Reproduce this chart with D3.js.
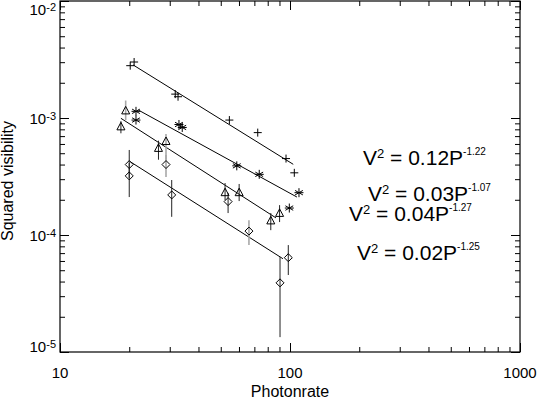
<!DOCTYPE html>
<html>
<head>
<meta charset="utf-8">
<script src="https://cdnjs.cloudflare.com/ajax/libs/d3/7.8.5/d3.min.js"></script>
<style>
body { margin: 0; background: #fff; }
svg { font-family: "Liberation Sans", Arial, Helvetica, sans-serif; }
</style>
</head>
<body>
<div id="chart"></div>
<script>
// photon rate (x) and squared visibility (y) for the four sets
var plusP = [20.2, 21.0, 31.7, 32.6, 54.5, 72.4, 96.1, 104.4];
var plusV = [2.80e-3, 3.01e-3, 1.60e-3, 1.52e-3, 9.6e-4, 7.5e-4, 4.5e-4, 3.4e-4];

var starP = [21.4, 21.4, 32.9, 34.0, 58.7, 73.5, 109.4, 99.3];
var starV = [1.14e-3, 9.6e-4, 8.8e-4, 8.3e-4, 3.9e-4, 3.3e-4, 2.3e-4, 1.7e-4];

var triP  = [19.3, 18.4, 26.8, 28.9, 52.2, 60.1, 82.5, 90.1];
var triV  = [1.15e-3, 8.4e-4, 5.5e-4, 6.3e-4, 2.3e-4, 2.3e-4, 1.32e-4, 1.53e-4];
var triHi = [1.41e-3, 9.4e-4, 6.4e-4, 7.3e-4, 2.78e-4, 2.73e-4, 1.54e-4, 1.80e-4];
var triLo = [9.6e-4, 7.4e-4, 4.4e-4, 4.4e-4, 1.99e-4, 1.95e-4, 1.10e-4, 1.29e-4];
var triGrey = [1, 0, 0, 1, 0, 0, 0, 0];

var diaP  = [20.0, 20.0, 28.9, 30.6, 53.8, 66.3, 98.3, 90.5];
var diaV  = [4.0e-4, 3.2e-4, 4.0e-4, 2.2e-4, 1.93e-4, 1.08e-4, 6.4e-5, 3.9e-5];
var diaHi = [5.33e-4, 4.12e-4, 4.83e-4, 2.95e-4, 2.29e-4, 1.34e-4, 8.2e-5, 6.5e-5];
var diaLo = [3.07e-4, 2.11e-4, 3.13e-4, 1.43e-4, 1.54e-4, 8.2e-5, 4.55e-5, 1.34e-5];
var diaGrey = [0, 0, 1, 0, 0, 1, 0, 0];

// fitted power laws, end points [P0, V0, P1, V1]
var fitPlus = [20.8, 2.84e-3, 103.3, 4.02e-4];
var fitStar = [21.9, 1.17e-3, 107.2, 2.11e-4];
var fitTri  = [18.4, 9.94e-4, 86.9, 1.40e-4];
var fitDia  = [20.2, 4.23e-4, 93.2, 6.27e-5];

var eqCoef = ["0.12", "0.03", "0.04", "0.02"];
var eqExp  = ["-1.22", "-1.07", "-1.27", "-1.25"];

var xTicks = [10, 100, 1000];
var yTicks = [1e-5, 1e-4, 1e-3, 1e-2];
var yTickExp = ["-5", "-4", "-3", "-2"];

var width = 538,
    height = 403;
var pLeft = 60, pRight = 520, pTop = 1, pBottom = 352;

var svg = d3.select("#chart")
            .append("svg")
            .attr("width", width)
            .attr("height", height);

var x = d3.scaleLog().domain([10, 1000]).range([pLeft, pRight]);
var y = d3.scaleLog().domain([1e-5, 1e-2]).range([pBottom, pTop]);

var minorX = [], minorY = [];
[10, 100].forEach(function(d) { for (var k = 2; k < 10; k++) minorX.push(d * k); });
[1e-5, 1e-4, 1e-3].forEach(function(d) { for (var k = 2; k < 10; k++) minorY.push(d * k); });

// ticks, all pointing inward
var axes = [
  [d3.axisBottom, x, "translate(0," + pBottom + ")", xTicks, minorX],
  [d3.axisTop, x, "translate(0," + pTop + ")", xTicks, minorX],
  [d3.axisLeft, y, "translate(" + pLeft + ",0)", yTicks, minorY],
  [d3.axisRight, y, "translate(" + pRight + ",0)", yTicks, minorY]
];
axes.forEach(function(a) {
  var g1 = svg.append("g").attr("transform", a[2])
              .call(a[0](a[1]).tickValues(a[3]).tickSize(-9).tickFormat(""));
  g1.select(".domain").remove();
  var g2 = svg.append("g").attr("transform", a[2])
              .call(a[0](a[1]).tickValues(a[4]).tickSize(-5).tickFormat(""));
  g2.select(".domain").remove();
});
svg.selectAll(".tick line").attr("stroke", "#000").attr("stroke-width", 1);

svg.append("rect")
   .attr("x", pLeft).attr("y", pTop)
   .attr("width", pRight - pLeft).attr("height", pBottom - pTop)
   .attr("fill", "none").attr("stroke", "#000").attr("stroke-width", 1.2);

// tick labels
svg.selectAll(".xlab")
   .data(xTicks)
   .enter().append("text")
   .attr("x", function(d) { return x(d); })
   .attr("y", 378)
   .attr("text-anchor", "middle")
   .attr("font-size", 15)
   .text(function(d) { return d; });

var ylab = svg.selectAll(".ylab")
   .data(yTicks)
   .enter().append("text")
   .attr("x", pLeft - 4)
   .attr("y", function(d, i) {
     if (i == 0) return y(d);
     if (i == yTicks.length - 1) return y(d) + 14;
     return y(d) + 6;
   })
   .attr("text-anchor", "end")
   .attr("font-size", 15);
ylab.append("tspan").text("10");
ylab.append("tspan").attr("font-size", 11).attr("dy", -4.5)
    .text(function(d, i) { return yTickExp[i]; });

svg.append("text")
   .attr("x", (pLeft + pRight) / 2).attr("y", 397)
   .attr("text-anchor", "middle").attr("font-size", 16)
   .text("Photonrate");

svg.append("text")
   .attr("transform", "translate(13," + 181 + ") rotate(-90)")
   .attr("text-anchor", "middle").attr("font-size", 16)
   .text("Squared visibility");

// fit lines
[fitPlus, fitStar, fitTri, fitDia].forEach(function(f) {
  svg.append("line")
     .attr("x1", x(f[0])).attr("y1", y(f[1]))
     .attr("x2", x(f[2])).attr("y2", y(f[3]))
     .attr("stroke", "#000").attr("stroke-width", 1);
});

// error bars
function bars(P, hi, lo, grey) {
  svg.append("g").selectAll("line")
     .data(P)
     .enter().append("line")
     .attr("x1", function(d) { return x(d); })
     .attr("x2", function(d) { return x(d); })
     .attr("y1", function(d, i) { return y(hi[i]); })
     .attr("y2", function(d, i) { return y(lo[i]); })
     .attr("stroke", function(d, i) { return grey[i] ? "#a8a8a8" : "#222"; })
     .attr("stroke-width", function(d, i) { return grey[i] ? 1.6 : 1; });
}
bars(triP, triHi, triLo, triGrey);
bars(diaP, diaHi, diaLo, diaGrey);

// symbols
var symPlus = "M-4,0H4M0,-4V4";
var symStar = "M0,-4.5V4.5M-3.9,-2.25L3.9,2.25M-3.9,2.25L3.9,-2.25M-4.5,0H4.5";
var symTri  = "M0,-4.5L-4,3L4,3Z";
var symDia  = "M0,-4L4,0L0,4L-4,0Z";

function points(P, V, sym) {
  svg.append("g").selectAll("path")
     .data(P)
     .enter().append("path")
     .attr("transform", function(d, i) { return "translate(" + x(d) + "," + y(V[i]) + ")"; })
     .attr("d", sym)
     .attr("fill", "none")
     .attr("stroke", "#000")
     .attr("stroke-width", 1);
}
points(plusP, plusV, symPlus);
points(starP, starV, symStar);
points(triP, triV, symTri);
points(diaP, diaV, symDia);

// equations
var eqPos = [[363, 165], [368, 201], [349, 221], [357, 260]];
eqCoef.forEach(function(c, i) {
  var t = svg.append("text")
     .attr("x", eqPos[i][0]).attr("y", eqPos[i][1])
     .attr("font-size", 21);
  t.append("tspan").text("V");
  t.append("tspan").attr("font-size", 13).attr("dy", -7).text("2");
  t.append("tspan").attr("dy", 7).text(" = " + c + "P");
  t.append("tspan").attr("font-size", 10).attr("dy", -10).text(eqExp[i]);
});
</script>
</body>
</html>
